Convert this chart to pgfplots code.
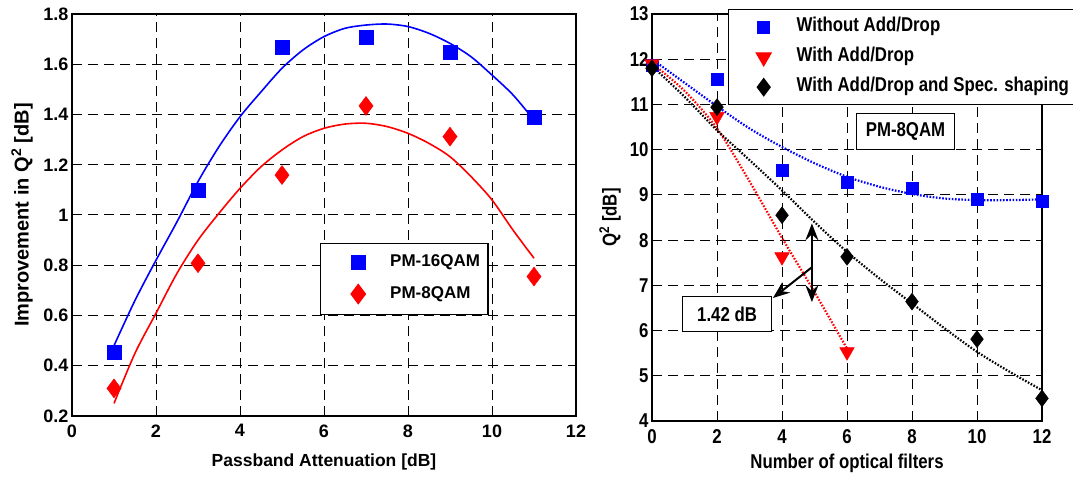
\documentclass[border=0pt]{standalone}
\usepackage{pgfplots}
\pgfplotsset{compat=1.18}
\usepackage{fontspec}
\setmainfont{Liberation Sans}
\newfontfamily\narrowsf{Liberation Sans}[FakeStretch=0.84]
\usetikzlibrary{arrows.meta}

\definecolor{mblue}{RGB}{0,0,255}
\definecolor{mred}{RGB}{255,0,0}

\pgfplotsset{
  matlab/.style={
    scale only axis,
    clip=false,
    axis line style={line width=1.4pt},
    grid=major,
    grid style={black, line width=1pt, dash pattern=on 10pt off 6pt},
    major tick length=0pt,
    /pgf/number format/assume math mode=true,
    xticklabel style={yshift=-5pt},
  },
  dots/.style={line width=2.2pt, dash pattern=on 1.6pt off 1.6pt, smooth, forget plot},
}

\begin{document}
\begin{tikzpicture}
% left panel
\begin{axis}[matlab,
  at={(0pt,0pt)}, anchor=south west,
  width=504pt, height=402pt,
  xmin=0, xmax=12, ymin=0.2, ymax=1.8,
  xtick={0,2,...,12}, ytick={0.2,0.4,...,1.8},
  tick label style={font=\bfseries\fontsize{18}{20}\selectfont},
  xlabel style={font=\bfseries\fontsize{17.5}{20}\selectfont},
  ylabel style={font=\bfseries\fontsize{20}{22}\selectfont},
  xlabel={Passband Attenuation [dB]},
  ylabel={Improvement in Q\textsuperscript{2} [dB]},
  xlabel style={at={(axis description cs:0.5,-0.1144)}, anchor=center},
  ylabel style={at={(axis description cs:-0.0992,0.5)}, anchor=center},
  legend style={at={(axis cs:5.895,0.889)}, anchor=north west,
    draw=black, line width=1.3pt, inner xsep=8pt, inner ysep=11pt,
    font=\bfseries\fontsize{17}{19}\selectfont,
    nodes={inner sep=0pt, text height=12pt, text depth=4pt},
    row sep=14pt, cells={anchor=west}},
  legend image code/.code={
    \draw[#1] plot[only marks] coordinates {(30pt,0pt)};
    \path[draw=none] (0pt,0pt) (62pt,0pt);},
]
\addplot[mblue, line width=1.6pt, smooth, forget plot] coordinates {
  (1,0.48) (1.5,0.66) (2,0.82) (2.5,0.973) (3,1.133) (3.5,1.272) (4,1.391)
  (4.5,1.49) (5,1.584) (5.5,1.657) (6,1.71) (6.5,1.743) (7,1.756) (7.5,1.76)
  (8,1.75) (8.5,1.723) (9,1.683) (9.5,1.63) (10,1.557) (10.5,1.478) (11,1.378)
};
\addplot[mred, line width=1.6pt, smooth, forget plot] coordinates {
  (1,0.25) (1.5,0.45) (2,0.609) (2.5,0.768) (3,0.90) (3.5,1.007) (4,1.106)
  (4.5,1.192) (5,1.259) (5.5,1.312) (6,1.345) (6.5,1.362) (7,1.365) (7.5,1.352)
  (8,1.325) (8.5,1.285) (9,1.232) (9.5,1.153) (10,1.06) (10.5,0.94) (11,0.828)
};
\addplot[only marks, mark=square*, mark size=7pt, mblue, mark options={draw=mblue, fill=mblue}] coordinates {
  (1,0.452) (3,1.10) (5,1.667) (7,1.706) (9,1.646) (11,1.391)
};
\addlegendentry{PM-16QAM}
\addplot[only marks, mark=diamond*, mark size=9.5pt, mred, mark options={draw=mred, fill=mred}] coordinates {
  (1,0.31) (3,0.808) (5,1.159) (7,1.434) (9,1.312) (11,0.755)
};
\addlegendentry{PM-8QAM}
\end{axis}

% right panel
\begin{axis}[matlab,
  at={(580pt,-5pt)}, anchor=south west,
  width=390pt, height=407pt,
  xmin=0, xmax=12, ymin=4, ymax=13,
  xtick={0,2,...,12}, ytick={4,5,...,13},
  tick label style={font=\narrowsf\bfseries\fontsize{20}{22}\selectfont},
  label style={font=\narrowsf\bfseries\fontsize{20}{22}\selectfont},
  xlabel={Number of optical filters},
  ylabel={Q\textsuperscript{2} [dB]},
  xlabel style={at={(axis description cs:0.5,-0.1032)}, anchor=center},
  ylabel style={at={(axis description cs:-0.1077,0.5)}, anchor=center},
  legend style={at={(axis cs:2.34,13.11)}, anchor=north west,
    draw=black, line width=1.3pt, inner xsep=5pt, inner ysep=9pt,
    font=\narrowsf\bfseries\fontsize{20}{22}\selectfont,
    nodes={inner sep=0pt, text height=13pt, text depth=4pt},
    row sep=13pt, cells={anchor=west}},
  legend image code/.code={
    \draw[#1] plot[only marks] coordinates {(30pt,0pt)};
    \path[draw=none] (0pt,0pt) (63pt,0pt);},
]
\addplot[mblue, dots] coordinates {
  (0,12.0) (1,11.48) (2,10.96) (3,10.47) (4,10.06) (5,9.70) (6,9.40) (7,9.18)
  (8,9.02) (9,8.92) (10,8.885) (11,8.885) (12,8.9)
};
\addplot[mred, dots] coordinates {
  (0,11.91) (1,11.3) (2,10.47) (3,9.3) (4,8.05) (5,6.85) (6,5.6)
};
\addplot[black, dots] coordinates {
  (0,11.85) (1,11.17) (2,10.43) (3,9.77) (4,9.1) (5,8.4) (6,7.74) (7,7.15)
  (8,6.6) (9,6.05) (10,5.53) (11,5.09) (12,4.68)
};
\addplot[only marks, mark=square*, mark size=6pt, mark options={draw=mblue, fill=mblue}] coordinates {
  (0,11.87) (2,11.55) (4,9.55) (6,9.29) (8,9.14) (10,8.9) (12,8.85)
};
\addlegendentry{Without Add/Drop}
\addplot[only marks, mark=triangle*, mark size=8.5pt, mark options={draw=mred, fill=mred, rotate=180}] coordinates {
  (0,11.9) (2,10.73) (4,7.63) (6,5.53)
};
\addlegendentry{With Add/Drop}
\addplot[only marks, mark=diamond*, mark size=8.5pt, mark options={draw=black, fill=black}] coordinates {
  (0,11.8) (2,10.94) (4,8.55) (6,7.63) (8,6.64) (10,5.81) (12,4.5)
};
\addlegendentry{With Add/Drop and Spec. shaping}
\node[draw=black, line width=1.3pt, fill=white, minimum width=98pt, minimum height=36pt,
  font=\narrowsf\bfseries\fontsize{20}{22}\selectfont] at (axis cs:7.8,10.4) {PM-8QAM};
\node[draw=black, line width=1.3pt, fill=white, minimum width=89pt, minimum height=35pt,
  font=\narrowsf\bfseries\fontsize{20}{22}\selectfont] at (axis cs:2.31,6.36) {1.42 dB};
\draw[line width=2.2pt, {Stealth[length=17pt,width=13pt,inset=6pt]}-{Stealth[length=17pt,width=13pt,inset=6pt]}]
  (axis cs:4.92,6.63) -- (axis cs:4.92,8.37);
\draw[line width=2pt, -{Stealth[length=17pt,width=13pt,inset=6pt]}]
  (axis cs:4.92,7.4) -- (axis cs:3.72,6.72);
\end{axis}
\pgfresetboundingbox
\path (-72pt,-63pt) rectangle (1001pt,416pt);
\end{tikzpicture}
\end{document}
